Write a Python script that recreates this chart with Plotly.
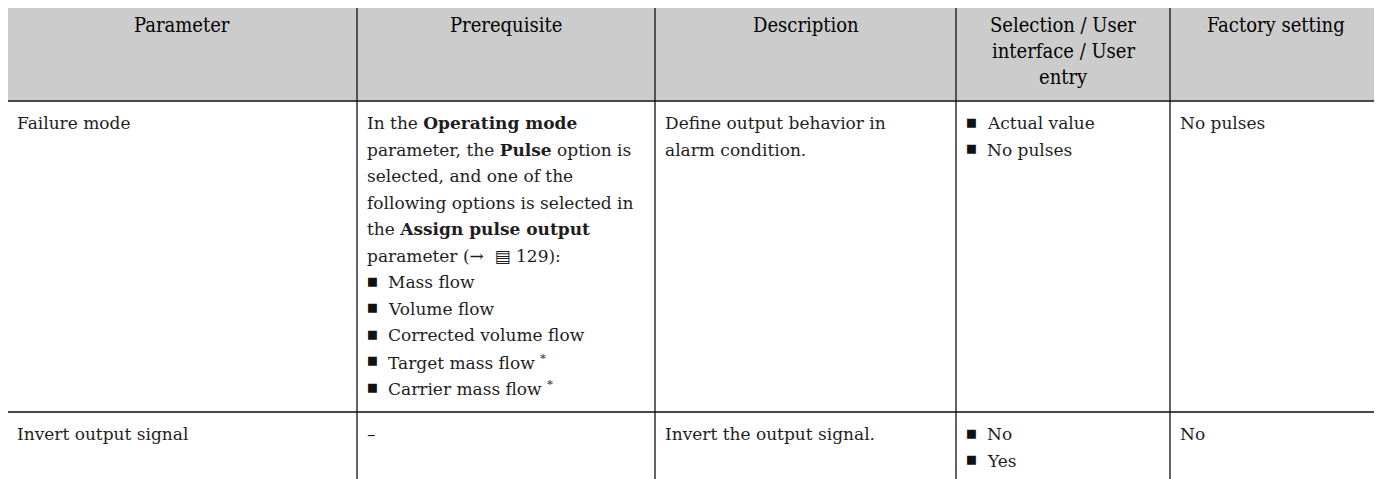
import plotly.graph_objects as go

# ---------------- data (table content) ----------------
header_lines = [
    ["Parameter"],
    ["Prerequisite"],
    ["Description"],
    ["Selection / User", "interface / User", "entry"],
    ["Factory setting"],
]

param_cells = [["Failure mode"], ["Invert output signal"]]
prereq_cells = [
    [
        "In the <b>Operating mode</b>",
        "parameter, the <b>Pulse</b> option is",
        "selected, and one of the",
        "following options is selected in",
        "the <b>Assign pulse output</b>",
        "parameter (→  ▤ 129):",
    ],
    ["–"],
]
prereq_bullets = [
    [
        "Mass flow",
        "Volume flow",
        "Corrected volume flow",
        "Target mass flow <sup>*</sup>",
        "Carrier mass flow <sup>*</sup>",
    ],
    [],
]
desc_cells = [["Define output behavior in", "alarm condition."], ["Invert the output signal."]]
selection_bullets = [["Actual value", "No pulses"], ["No", "Yes"]]
factory_cells = [["No pulses"], ["No"]]

# ---------------- layout constants ----------------
W, H = 1382, 479
PAGE_OFF = 8       # the page places the figure 8px from the window corner
X0 = 7
COL_W = [350, 298, 301, 214, 211]
Y0 = 5
HEADER_H = 96
HEAD_FIRST = 20
HEAD_LH = 26
LINE_H = 26.5
PAD_TOP = 22       # cell top -> first line centre
PAD_BOT = 24       # last line centre -> cell bottom
TEXT_PAD = 9
BULLET_INDENT = 21

BODY_FONT = dict(family="DejaVu Serif", size=17, color="#1e1e1e")
HEAD_FONT = dict(family="DejaVu Serif Condensed, DejaVu Serif", size=20, color="#000000")
BULLET_FONT = dict(family="DejaVu Sans", size=11.5, color="#111111")

# column edges
xe = [X0]
for w in COL_W:
    xe.append(xe[-1] + w)

# build rows: each cell = (plain lines, bullet lines)
rows = []
for i in range(len(param_cells)):
    rows.append([
        (param_cells[i], []),
        (prereq_cells[i], prereq_bullets[i]),
        (desc_cells[i], []),
        ([], selection_bullets[i]),
        (factory_cells[i], []),
    ])

# row boundaries
row_tops = []
y = Y0 + HEADER_H
for r in rows:
    n = max(len(p) + len(b) for p, b in r)
    row_tops.append(y)
    y += PAD_TOP + (n - 1) * LINE_H + PAD_BOT
table_bottom = y

annotations = []
shapes = []


def add_text(x, yv, text, font, xanchor="left"):
    annotations.append(dict(
        x=x, y=yv, xref="x", yref="y", text=text, showarrow=False,
        xanchor=xanchor, yanchor="middle", font=font, align="left", borderpad=0,
    ))


# header background
shapes.append(dict(type="rect", xref="x", yref="y", x0=xe[0], x1=xe[-1], y0=Y0, y1=Y0 + HEADER_H,
                   fillcolor="#cccccc", line=dict(width=0), layer="below"))

# header text
for c, lines in enumerate(header_lines):
    cx = (xe[c] + xe[c + 1]) / 2
    for k, t in enumerate(lines):
        add_text(cx, Y0 + HEAD_FIRST + k * HEAD_LH, t, HEAD_FONT, xanchor="center")

# body text
for r, row in enumerate(rows):
    top = row_tops[r]
    for c, (plain, bullets) in enumerate(row):
        x = xe[c] + TEXT_PAD
        k = 0
        for t in plain:
            add_text(x, top + PAD_TOP + k * LINE_H, t, BODY_FONT)
            k += 1
        for t in bullets:
            yy = top + PAD_TOP + k * LINE_H
            add_text(x, yy - 1.5, "■", BULLET_FONT)
            add_text(x + BULLET_INDENT, yy, t, BODY_FONT)
            k += 1

# horizontal lines
for yy in [Y0, Y0 + HEADER_H] + row_tops[1:] + [table_bottom]:
    shapes.append(dict(type="line", xref="x", yref="y", x0=xe[0], x1=xe[-1], y0=yy, y1=yy,
                       line=dict(color="#4a4a4a", width=2)))
# vertical lines
for xx in xe:
    shapes.append(dict(type="line", xref="x", yref="y", x0=xx, x1=xx, y0=Y0, y1=table_bottom,
                       line=dict(color="#111111", width=1.3)))

FW, FH = W - PAGE_OFF, H - PAGE_OFF
fig = go.Figure()
fig.add_trace(go.Scatter(x=[PAGE_OFF, W], y=[PAGE_OFF, H], mode="markers",
                         marker=dict(opacity=0), hoverinfo="skip", showlegend=False))
fig.update_layout(
    width=FW, height=FH,
    margin=dict(l=0, r=0, t=0, b=0),
    paper_bgcolor="white", plot_bgcolor="white",
    xaxis=dict(range=[PAGE_OFF, W], visible=False, fixedrange=True),
    yaxis=dict(range=[H, PAGE_OFF], visible=False, fixedrange=True),
    shapes=shapes, annotations=annotations, showlegend=False,
)
fig.write_html("out.html")
